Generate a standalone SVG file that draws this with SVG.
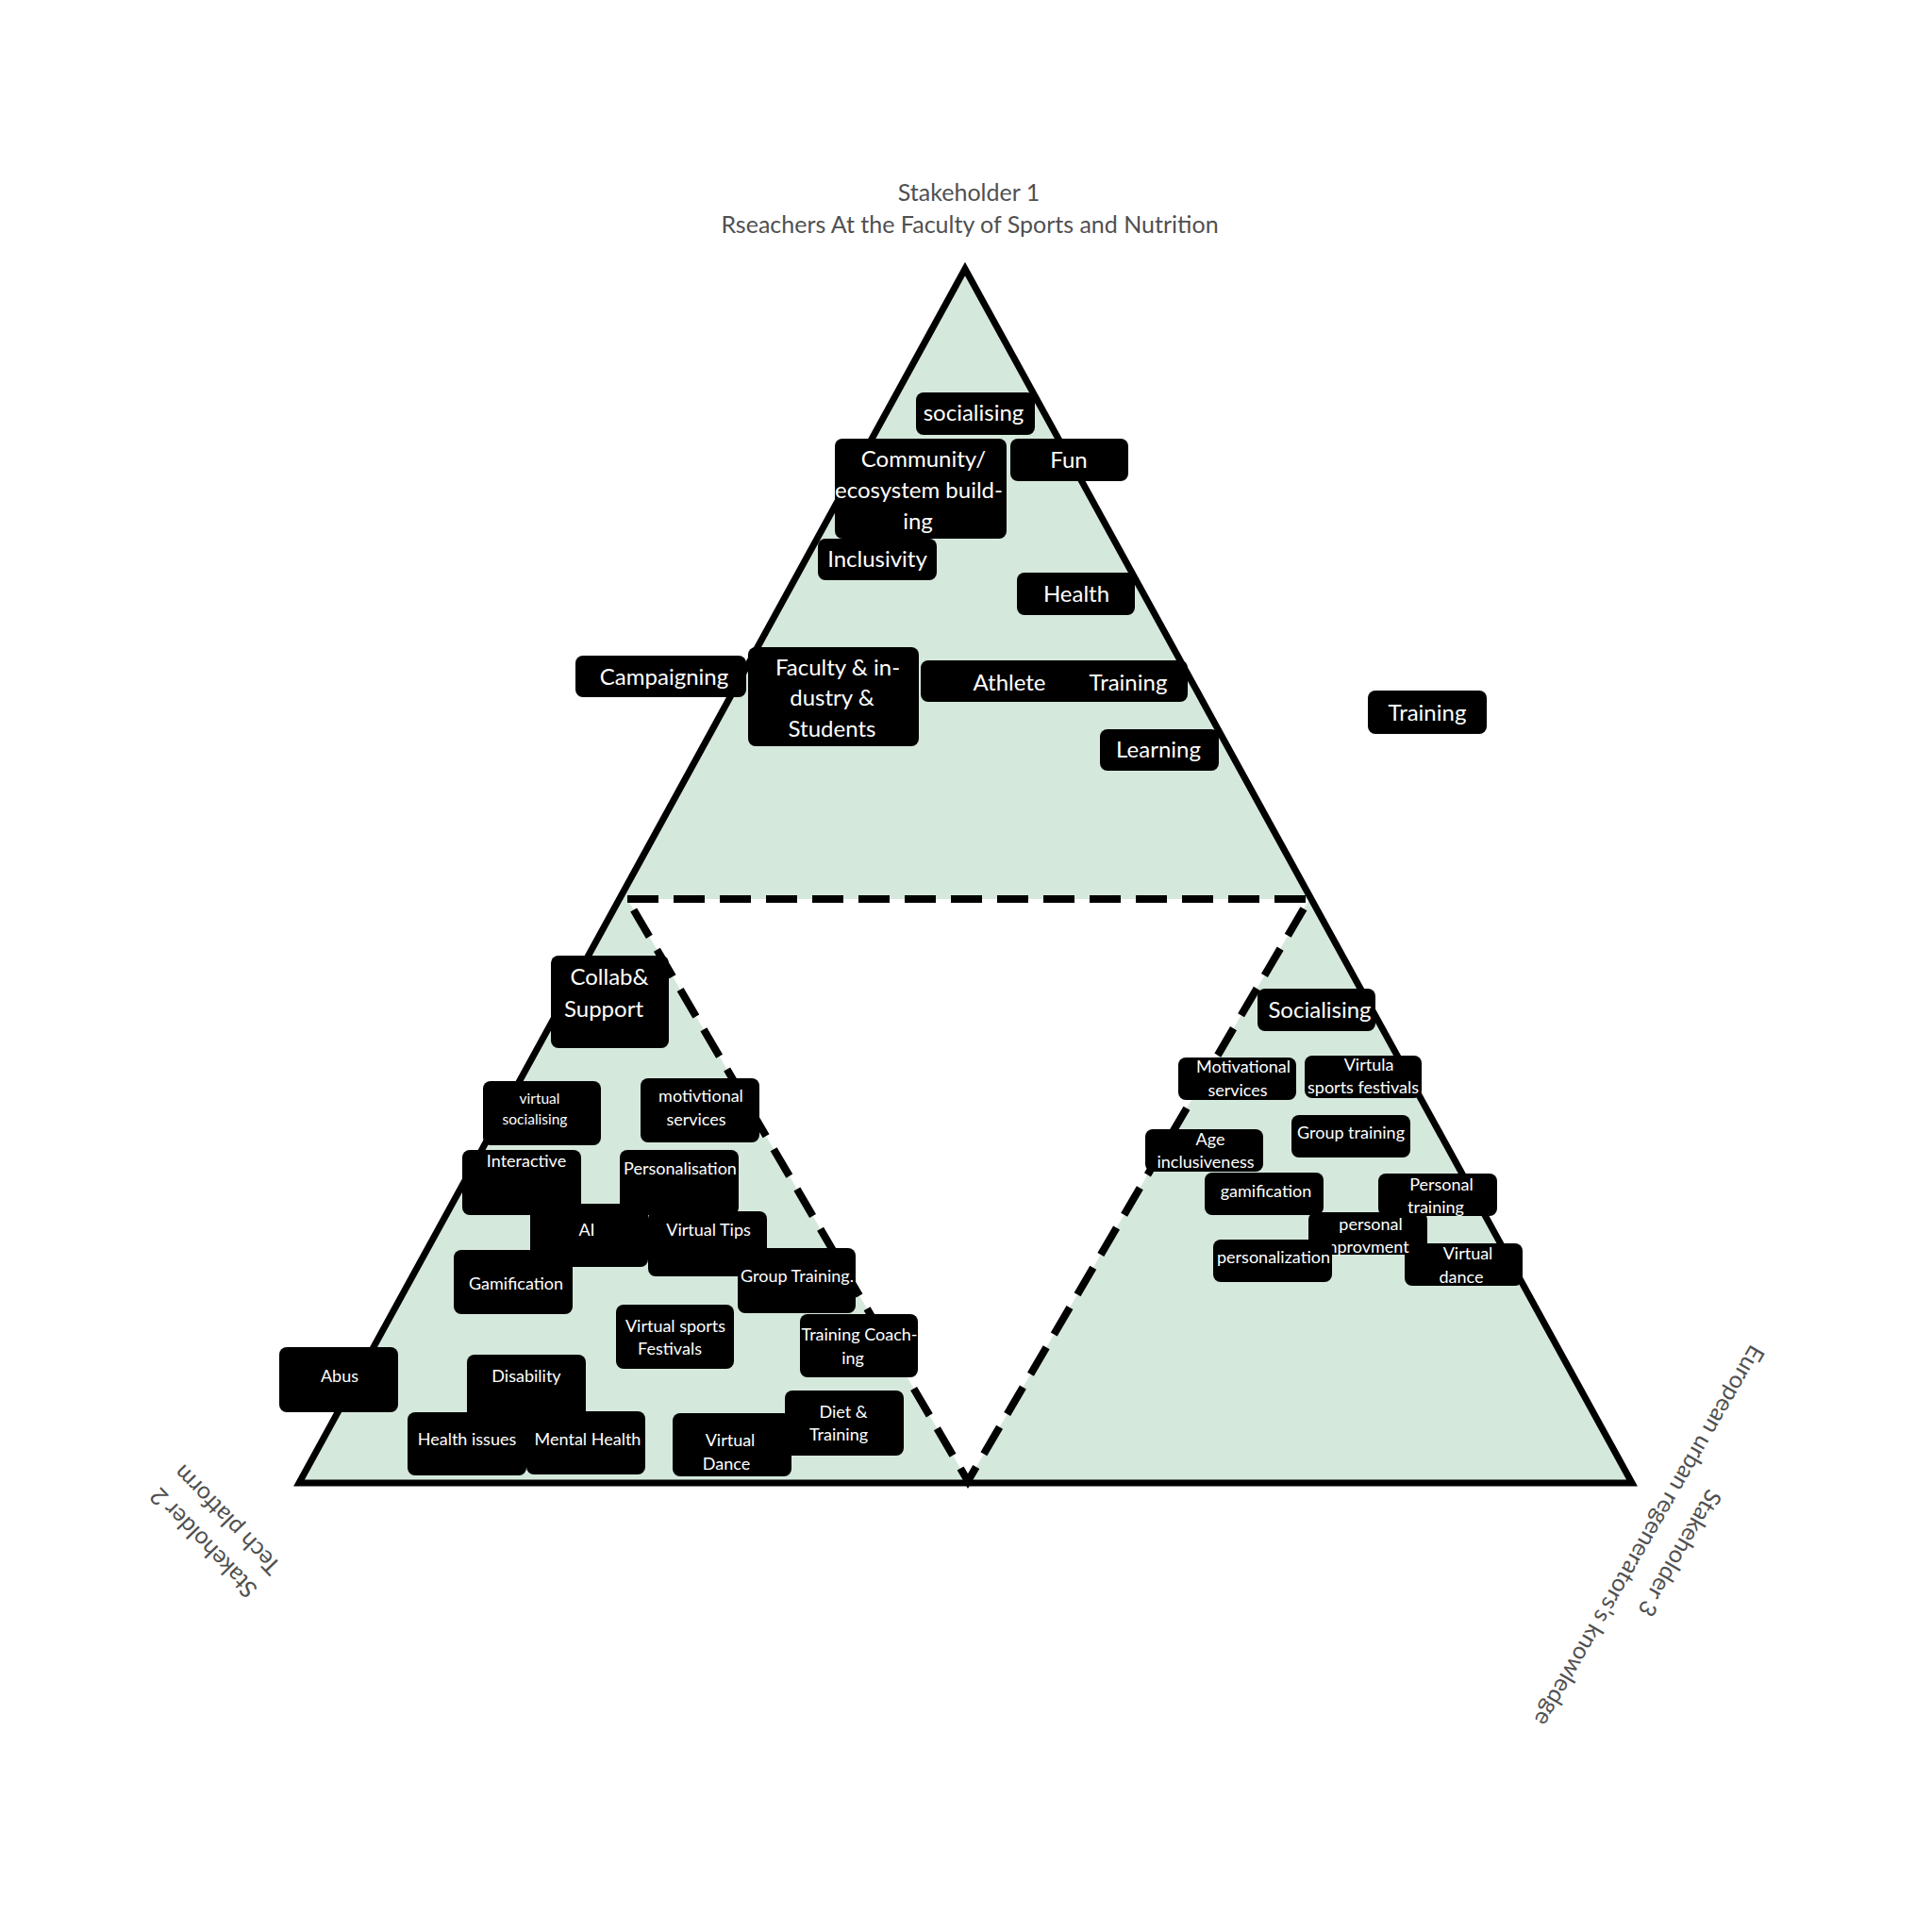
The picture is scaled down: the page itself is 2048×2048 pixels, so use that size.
<svg xmlns="http://www.w3.org/2000/svg" width="2048" height="2048" viewBox="0 0 2048 2048">
<style>
.bx{fill:#000}
.t{fill:#fff;font-family:Lato,"Open Sans","Liberation Sans",sans-serif;text-anchor:middle}
.f24{font-size:24px}
.f18{font-size:18px}
.f15{font-size:15.5px}
.lbl{fill:#505050;font-family:Lato,"Open Sans","Liberation Sans",sans-serif;font-size:25px;text-anchor:middle}
</style>
<rect width="2048" height="2048" fill="#fff"/>
<g id="triangle">
<polygon points="1023,285 317,1572 1730,1572" fill="#d5e8dc"/>
<polygon points="665,953 1388,953 1026,1570" fill="#fff" stroke="#000" stroke-width="8" stroke-dasharray="33 16"/>
<polygon points="1023,285 317,1572 1730,1572" fill="none" stroke="#000" stroke-width="7"/>
</g>
<g id="connectors"></g>
<g id="labels">
<text class="lbl" x="1027" y="213">Stakeholder 1</text>
<text class="lbl" x="1028" y="247">Rseachers At the Faculty of Sports and Nutrition</text>
<g transform="translate(216,1635) rotate(226)"><text class="lbl" x="0" y="8">Stakeholder 2</text><text class="lbl" x="0" y="43">Tech platform</text></g>
<g transform="translate(1780,1646) rotate(120)"><text class="lbl" x="0" y="8">Stakeholder 3</text><text class="lbl" x="0" y="45">European urban regenerators's knowledge</text></g>
</g>
<g id="n-socialising-top"><rect class="bx" x="971" y="416" width="126" height="45" rx="8"/><text class="t f24" x="1032" y="446">socialising</text></g>
<g id="n-community"><rect class="bx" x="885" y="465" width="182" height="106" rx="8"/><text class="t f24"><tspan x="979" y="495">Community/</tspan><tspan x="974" y="528">ecosystem build-</tspan><tspan x="973" y="561">ing</tspan></text></g>
<g id="n-fun"><rect class="bx" x="1071" y="465" width="125" height="45" rx="8"/><text class="t f24" x="1133" y="496">Fun</text></g>
<g id="n-inclusivity"><rect class="bx" x="867" y="571" width="126" height="44" rx="8"/><text class="t f24" x="930" y="601">Inclusivity</text></g>
<g id="n-health"><rect class="bx" x="1078" y="607" width="125" height="45" rx="8"/><text class="t f24" x="1141" y="638">Health</text></g>
<g id="n-campaigning"><rect class="bx" x="610" y="695" width="181" height="44" rx="8"/><text class="t f24" x="704" y="726">Campaigning</text></g>
<g id="n-faculty"><rect class="bx" x="793" y="686" width="181" height="105" rx="8"/><text class="t f24"><tspan x="888" y="716">Faculty &amp; in-</tspan><tspan x="882" y="748">dustry &amp;</tspan><tspan x="882" y="781">Students</tspan></text></g>
<g id="n-athlete"><rect class="bx" x="976" y="700" width="190" height="44" rx="8"/><text class="t f24" x="1070" y="732">Athlete</text></g>
<g id="n-training-top"><rect class="bx" x="1134" y="700" width="125" height="44" rx="8"/><text class="t f24" x="1196" y="732">Training</text></g>
<g id="n-learning"><rect class="bx" x="1166" y="773" width="126" height="44" rx="8"/><text class="t f24" x="1228" y="803">Learning</text></g>
<g id="n-training-out"><rect class="bx" x="1450" y="732" width="126" height="46" rx="8"/><text class="t f24" x="1513" y="764">Training</text></g>
<g id="n-collab"><rect class="bx" x="584" y="1013" width="125" height="98" rx="8"/><text class="t f24"><tspan x="646" y="1044">Collab&amp;</tspan><tspan x="640" y="1078">Support</tspan></text></g>
<g id="n-virtual-socialising"><rect class="bx" x="512" y="1146" width="125" height="68" rx="8"/><text class="t f15"><tspan x="572" y="1170">virtual</tspan><tspan x="567" y="1192">socialising</tspan></text></g>
<g id="n-motivtional"><rect class="bx" x="679" y="1143" width="126" height="68" rx="8"/><text class="t f18"><tspan x="743" y="1168">motivtional</tspan><tspan x="738" y="1193">services</tspan></text></g>
<g id="n-interactive"><rect class="bx" x="490" y="1219" width="126" height="69" rx="8"/><text class="t f18" x="558" y="1237">Interactive</text></g>
<g id="n-personalisation"><rect class="bx" x="657" y="1219" width="126" height="69" rx="8"/><text class="t f18" x="721" y="1245">Personalisation</text></g>
<g id="n-ai"><rect class="bx" x="562" y="1276" width="125" height="67" rx="8"/><text class="t f18" x="622" y="1310">AI</text></g>
<g id="n-virtual-tips"><rect class="bx" x="687" y="1284" width="126" height="69" rx="8"/><text class="t f18" x="751" y="1310">Virtual Tips</text></g>
<g id="n-gamification-l"><rect class="bx" x="481" y="1325" width="126" height="68" rx="8"/><text class="t f18" x="547" y="1367">Gamification</text></g>
<g id="n-group-training-l"><rect class="bx" x="782" y="1323" width="125" height="69" rx="8"/><text class="t f18" x="845" y="1359">Group Training.</text></g>
<g id="n-virtual-sports-l"><rect class="bx" x="653" y="1383" width="125" height="68" rx="8"/><text class="t f18"><tspan x="716" y="1412">Virtual sports</tspan><tspan x="710" y="1436">Festivals</tspan></text></g>
<g id="n-training-coaching"><rect class="bx" x="848" y="1393" width="125" height="67" rx="8"/><text class="t f18"><tspan x="911" y="1421">Training Coach-</tspan><tspan x="904" y="1446">ing</tspan></text></g>
<g id="n-abus"><rect class="bx" x="296" y="1428" width="126" height="69" rx="8"/><text class="t f18" x="360" y="1465">Abus</text></g>
<g id="n-disability"><rect class="bx" x="495" y="1436" width="126" height="70" rx="8"/><text class="t f18" x="558" y="1465">Disability</text></g>
<g id="n-health-issues"><rect class="bx" x="432" y="1497" width="126" height="67" rx="8"/><text class="t f18" x="495" y="1532">Health issues</text></g>
<g id="n-mental-health"><rect class="bx" x="558" y="1496" width="126" height="67" rx="8"/><text class="t f18" x="623" y="1532">Mental Health</text></g>
<g id="n-virtual-dance-l"><rect class="bx" x="713" y="1498" width="126" height="67" rx="8"/><text class="t f18"><tspan x="774" y="1533">Virtual</tspan><tspan x="770" y="1558">Dance</tspan></text></g>
<g id="n-diet-training"><rect class="bx" x="832" y="1474" width="126" height="69" rx="8"/><text class="t f18"><tspan x="894" y="1503">Diet &amp;</tspan><tspan x="889" y="1527">Training</tspan></text></g>
<g id="n-socialising-r"><rect class="bx" x="1333" y="1048" width="125" height="45" rx="8"/><text class="t f24" x="1399" y="1079">Socialising</text></g>
<g id="n-motivational-r"><rect class="bx" x="1249" y="1121" width="125" height="45" rx="8"/><text class="t f18"><tspan x="1318" y="1137">Motivational</tspan><tspan x="1312" y="1162">services</tspan></text></g>
<g id="n-virtula-sports"><rect class="bx" x="1383" y="1119" width="124" height="45" rx="8"/><text class="t f18"><tspan x="1451" y="1135">Virtula</tspan><tspan x="1445" y="1159">sports festivals</tspan></text></g>
<g id="n-age"><rect class="bx" x="1214" y="1197" width="125" height="45" rx="8"/><text class="t f18"><tspan x="1283" y="1214">Age</tspan><tspan x="1278" y="1238">inclusiveness</tspan></text></g>
<g id="n-group-training-r"><rect class="bx" x="1369" y="1182" width="126" height="45" rx="8"/><text class="t f18" x="1432" y="1207">Group training</text></g>
<g id="n-gamification-r"><rect class="bx" x="1277" y="1243" width="126" height="45" rx="8"/><text class="t f18" x="1342" y="1269">gamification</text></g>
<g id="n-virtual-dance-r"><rect class="bx" x="1489" y="1318" width="125" height="45" rx="8"/><text class="t f18"><tspan x="1556" y="1335">Virtual</tspan><tspan x="1549" y="1360">dance</tspan></text></g>
<g id="n-personal-improvment"><rect class="bx" x="1387" y="1285" width="126" height="45" rx="8"/><text class="t f18"><tspan x="1453" y="1304">personal</tspan><tspan x="1446" y="1328">improvment</tspan></text></g>
<g id="n-personal-training"><rect class="bx" x="1461" y="1244" width="126" height="45" rx="8"/><text class="t f18"><tspan x="1528" y="1262">Personal</tspan><tspan x="1522" y="1286">training</tspan></text></g>
<g id="n-personalization"><rect class="bx" x="1286" y="1314" width="126" height="45" rx="8"/><text class="t f18" x="1350" y="1339">personalization</text></g>
</svg>
